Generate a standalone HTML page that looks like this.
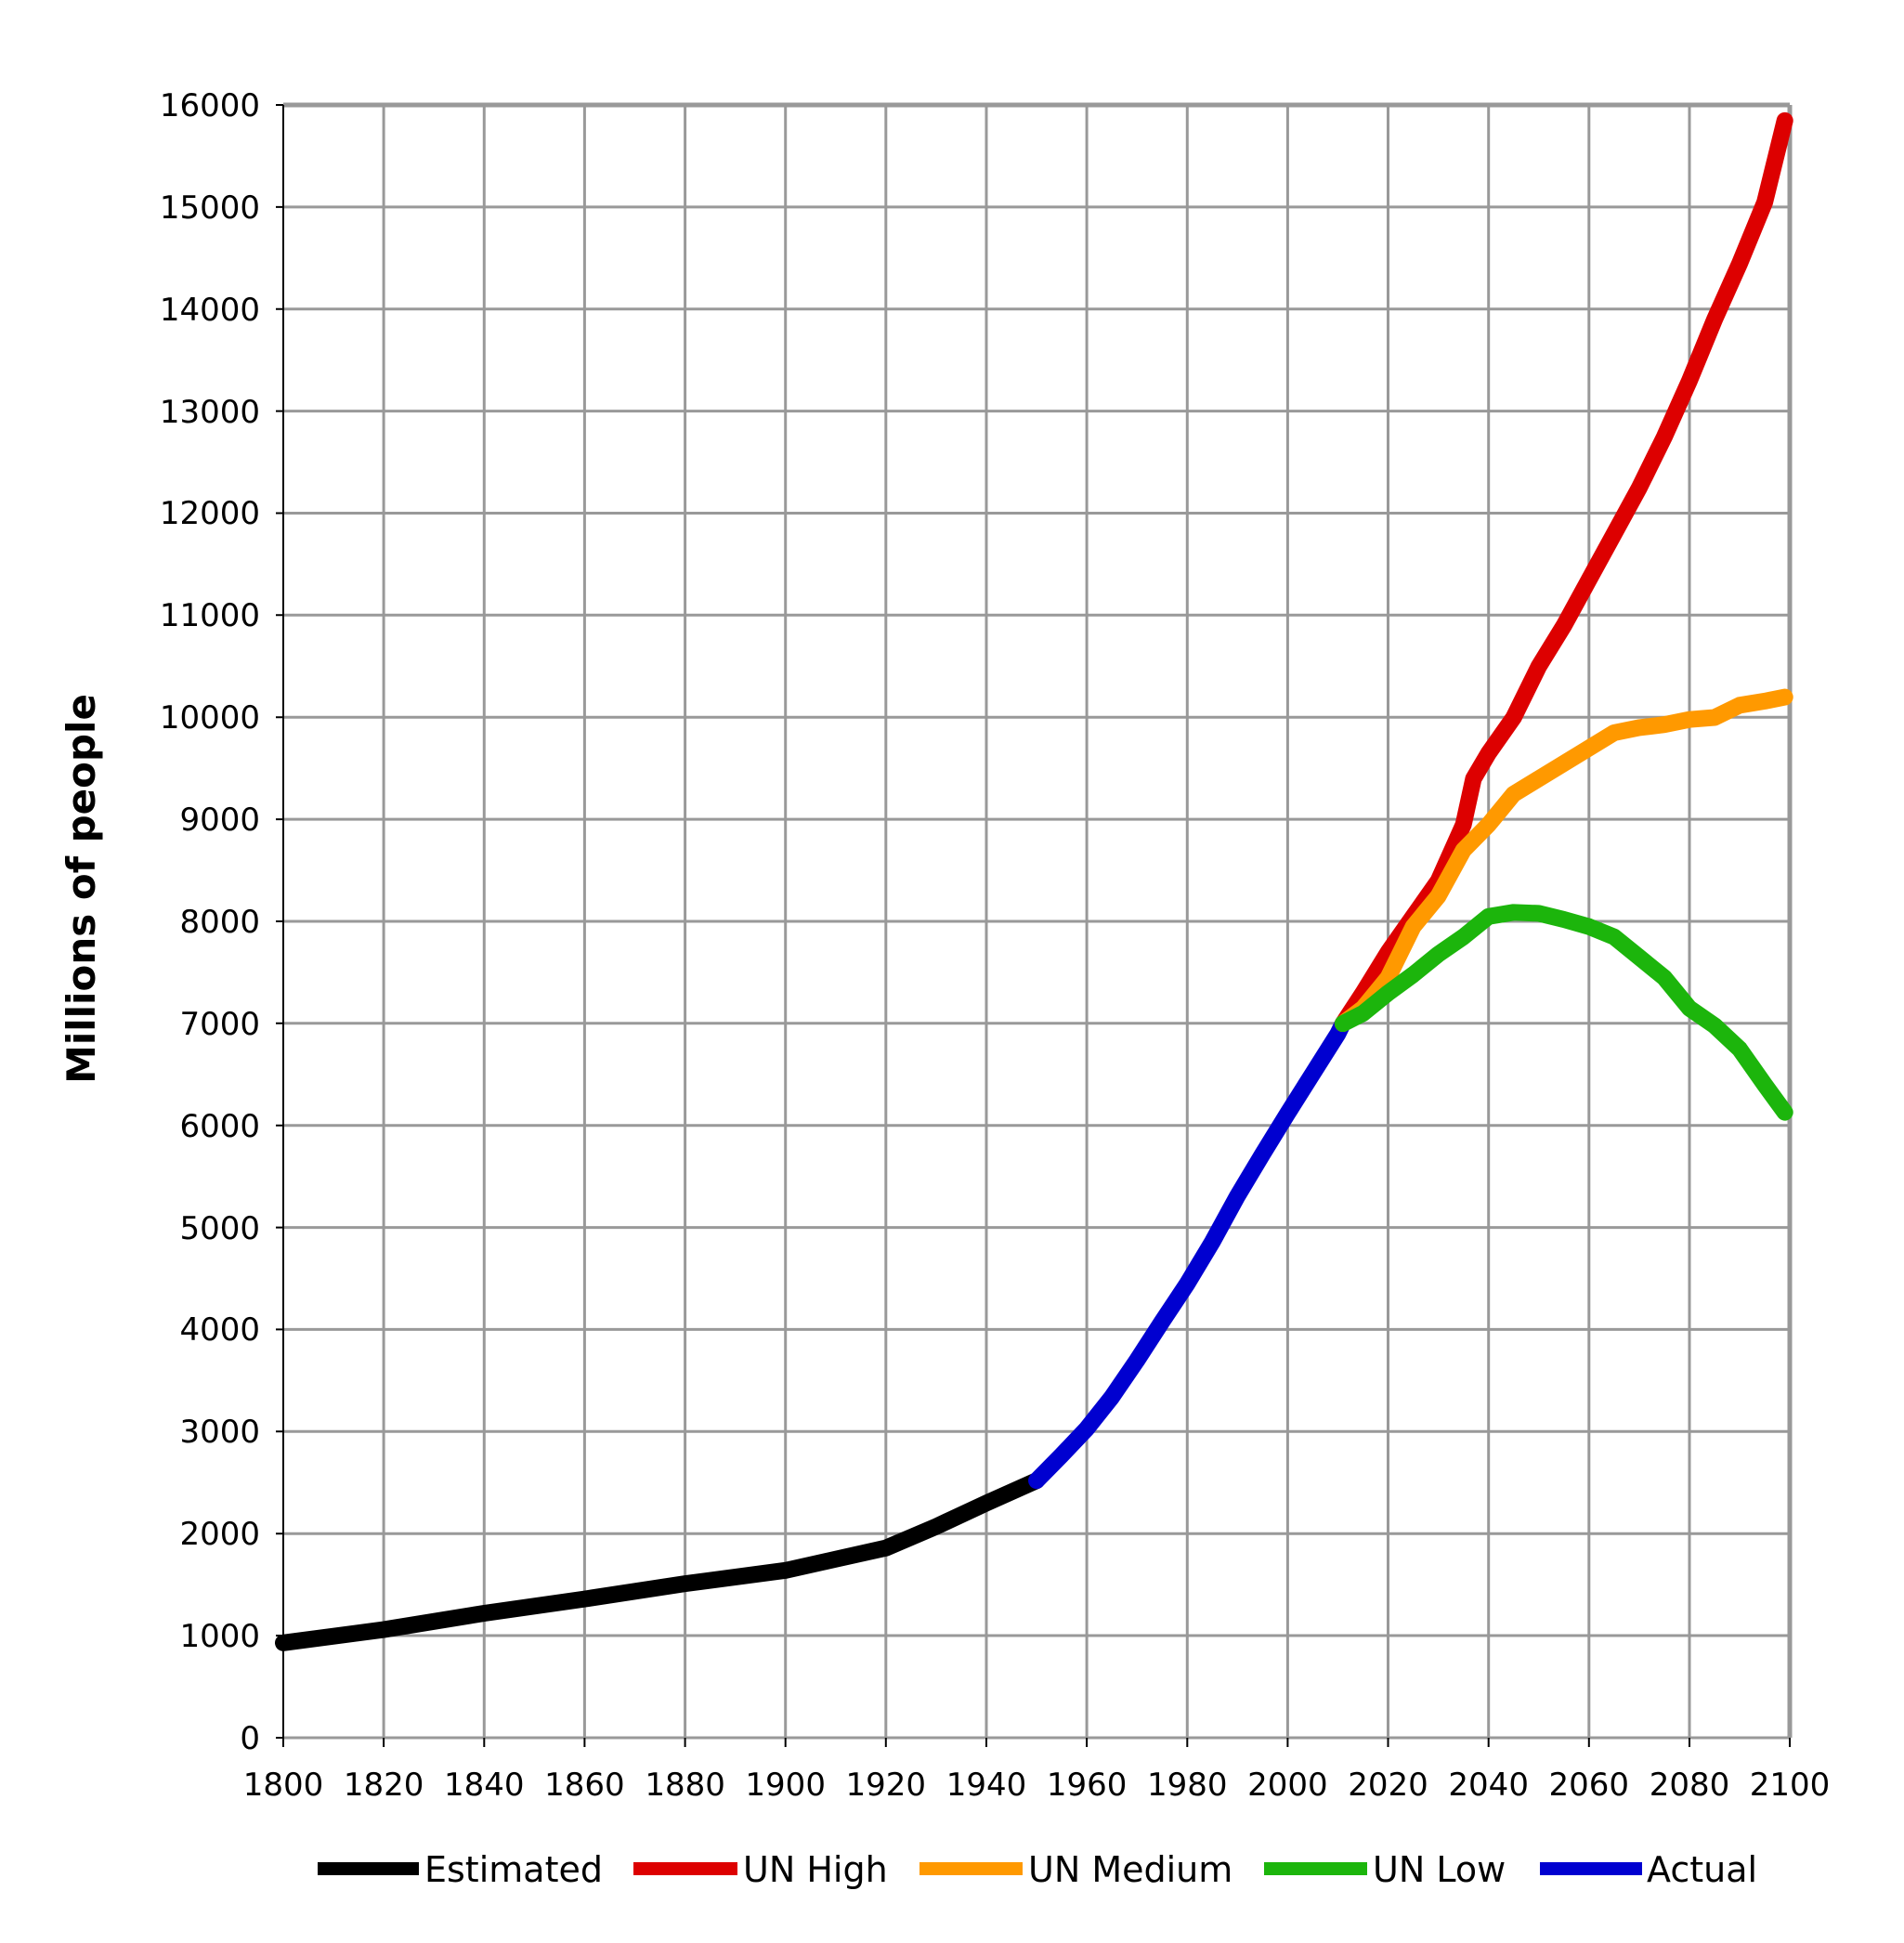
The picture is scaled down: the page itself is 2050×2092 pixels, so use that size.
<!DOCTYPE html>
<html><head><meta charset="utf-8"><style>
html,body{margin:0;padding:0;background:#fff;}
svg{display:block;}
text{font-family:"DejaVu Sans","Liberation Sans",sans-serif;fill:#000;}
</style></head><body>
<svg width="2050" height="2092" viewBox="0 0 2050 2092" xmlns="http://www.w3.org/2000/svg">
<g stroke="#999" stroke-width="3" fill="none">
<line x1="413.1" y1="113" x2="413.1" y2="1871"/>
<line x1="521.3" y1="113" x2="521.3" y2="1871"/>
<line x1="629.4" y1="113" x2="629.4" y2="1871"/>
<line x1="737.6" y1="113" x2="737.6" y2="1871"/>
<line x1="845.7" y1="113" x2="845.7" y2="1871"/>
<line x1="953.8" y1="113" x2="953.8" y2="1871"/>
<line x1="1062" y1="113" x2="1062" y2="1871"/>
<line x1="1170.1" y1="113" x2="1170.1" y2="1871"/>
<line x1="1278.3" y1="113" x2="1278.3" y2="1871"/>
<line x1="1386.4" y1="113" x2="1386.4" y2="1871"/>
<line x1="1494.5" y1="113" x2="1494.5" y2="1871"/>
<line x1="1602.7" y1="113" x2="1602.7" y2="1871"/>
<line x1="1710.8" y1="113" x2="1710.8" y2="1871"/>
<line x1="1819" y1="113" x2="1819" y2="1871"/>
<line x1="1927" y1="113" x2="1927" y2="1871" stroke-width="5"/>
<line x1="305" y1="113" x2="1927" y2="113" stroke-width="5"/>
<line x1="305" y1="222.9" x2="1927" y2="222.9"/>
<line x1="305" y1="332.7" x2="1927" y2="332.7"/>
<line x1="305" y1="442.6" x2="1927" y2="442.6"/>
<line x1="305" y1="552.5" x2="1927" y2="552.5"/>
<line x1="305" y1="662.3" x2="1927" y2="662.3"/>
<line x1="305" y1="772.2" x2="1927" y2="772.2"/>
<line x1="305" y1="882.1" x2="1927" y2="882.1"/>
<line x1="305" y1="992" x2="1927" y2="992"/>
<line x1="305" y1="1101.8" x2="1927" y2="1101.8"/>
<line x1="305" y1="1211.7" x2="1927" y2="1211.7"/>
<line x1="305" y1="1321.6" x2="1927" y2="1321.6"/>
<line x1="305" y1="1431.4" x2="1927" y2="1431.4"/>
<line x1="305" y1="1541.3" x2="1927" y2="1541.3"/>
<line x1="305" y1="1651.2" x2="1927" y2="1651.2"/>
<line x1="305" y1="1761" x2="1927" y2="1761"/>
<line x1="305" y1="1871" x2="1927" y2="1871"/>
</g>
<g stroke="#000" stroke-width="2">
<line x1="305" y1="113" x2="305" y2="1881"/>
</g>
<g stroke="#000" stroke-width="2" fill="none">
<path d="M305 1871v10M413.1 1871v10M521.3 1871v10M629.4 1871v10M737.6 1871v10M845.7 1871v10M953.8 1871v10M1062 1871v10M1170.1 1871v10M1278.3 1871v10M1386.4 1871v10M1494.5 1871v10M1602.7 1871v10M1710.8 1871v10M1819 1871v10M1927 1871v10"/>
<path d="M297 113h8M297 222.9h8M297 332.7h8M297 442.6h8M297 552.5h8M297 662.3h8M297 772.2h8M297 882.1h8M297 992h8M297 1101.8h8M297 1211.7h8M297 1321.6h8M297 1431.4h8M297 1541.3h8M297 1651.2h8M297 1761h8M297 1871h8"/>
</g>
<g font-size="34" text-anchor="end">
<text x="280" y="125">16000</text><text x="280" y="235">15000</text><text x="280" y="345">14000</text>
<text x="280" y="455">13000</text><text x="280" y="564">12000</text><text x="280" y="674">11000</text>
<text x="280" y="784">10000</text><text x="280" y="894">9000</text><text x="280" y="1004">8000</text>
<text x="280" y="1114">7000</text><text x="280" y="1224">6000</text><text x="280" y="1334">5000</text>
<text x="280" y="1443">4000</text><text x="280" y="1553">3000</text><text x="280" y="1663">2000</text>
<text x="280" y="1773">1000</text><text x="280" y="1883">0</text>
</g>
<g font-size="34" text-anchor="middle">
<text x="305" y="1933">1800</text><text x="413.1" y="1933">1820</text><text x="521.3" y="1933">1840</text>
<text x="629.4" y="1933">1860</text><text x="737.6" y="1933">1880</text><text x="845.7" y="1933">1900</text>
<text x="953.8" y="1933">1920</text><text x="1062" y="1933">1940</text><text x="1170.1" y="1933">1960</text>
<text x="1278.3" y="1933">1980</text><text x="1386.4" y="1933">2000</text><text x="1494.5" y="1933">2020</text>
<text x="1602.7" y="1933">2040</text><text x="1710.8" y="1933">2060</text><text x="1819" y="1933">2080</text>
<text x="1927" y="1933">2100</text>
</g>
<text transform="translate(102,957) rotate(-90)" font-size="42" font-weight="bold" text-anchor="middle">Millions of people</text>
<g transform="translate(305,1871) scale(5.407,-0.10985)" fill="none" stroke-linecap="round" stroke-linejoin="round">
<polyline vector-effect="non-scaling-stroke" stroke="#000" stroke-width="18" points="0,930 20,1060 40,1220 60,1360 80,1510 100,1640 110,1750 120,1860 130,2070 140,2300 150,2520"/>
<polyline vector-effect="non-scaling-stroke" stroke="#0000d0" stroke-width="18" points="150,2520 155,2770 160,3030 165,3340 170,3700 175,4080 180,4450 185,4860 190,5310 195,5720 200,6120 205,6510 210,6900 211,7000"/>
<polyline vector-effect="non-scaling-stroke" stroke="#dd0000" stroke-width="18" points="211,7000 215,7300 220,7700 225,8050 230,8400 235,8950 237,9400 240,9650 245,10000 250,10500 255,10900 260,11350 265,11800 270,12250 275,12750 280,13300 285,13900 290,14450 295,15050 299,15850"/>
<polyline vector-effect="non-scaling-stroke" stroke="#ff9900" stroke-width="18" points="211,7000 215,7150 220,7450 225,7950 230,8250 235,8700 240,8950 245,9250 250,9400 255,9550 260,9700 265,9850 270,9900 275,9930 280,9980 285,10000 290,10120 295,10160 299,10200"/>
<polyline vector-effect="non-scaling-stroke" stroke="#1cb50c" stroke-width="18" points="211,7000 215,7100 220,7300 225,7480 230,7680 235,7850 240,8050 245,8090 250,8080 255,8020 260,7950 265,7850 270,7650 275,7450 280,7150 285,6980 290,6750 295,6400 299,6130"/>
</g>
<g stroke-width="14">
<line x1="342" y1="2012" x2="451" y2="2012" stroke="#000"/>
<line x1="682" y1="2012" x2="794" y2="2012" stroke="#dd0000"/>
<line x1="990" y1="2012" x2="1101" y2="2012" stroke="#ff9900"/>
<line x1="1361" y1="2012" x2="1472" y2="2012" stroke="#1cb50c"/>
<line x1="1658" y1="2012" x2="1768" y2="2012" stroke="#0000d0"/>
</g>
<g font-size="38">
<text x="457" y="2026">Estimated</text>
<text x="800" y="2026">UN High</text>
<text x="1107" y="2026">UN Medium</text>
<text x="1478" y="2026">UN Low</text>
<text x="1773" y="2026">Actual</text>
</g>
</svg>
</body></html>
